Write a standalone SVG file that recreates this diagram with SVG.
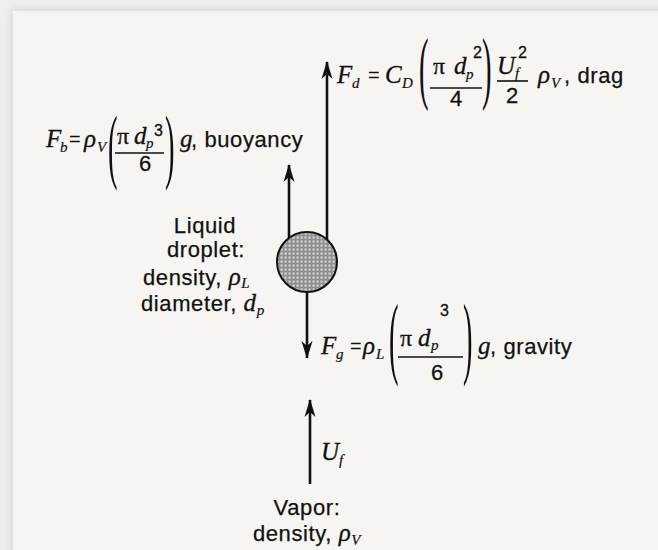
<svg xmlns="http://www.w3.org/2000/svg" width="658" height="550" viewBox="0 0 658 550">
  <defs>
    <style>
      .sans { font-family: "Liberation Sans", Arial, sans-serif; font-size: 22px; fill: #111; stroke: #111; stroke-width: 0.25; letter-spacing: 0.6px; }
      .m { font-family: "Liberation Serif", "Times New Roman", serif; font-style: italic; font-size: 25px; fill: #111; stroke: #111; stroke-width: 0.3; }
      .ms { font-family: "Liberation Serif", "Times New Roman", serif; font-style: italic; font-size: 15px; fill: #111; stroke: #111; stroke-width: 0.2; }
      .up { font-family: "Liberation Serif", "Times New Roman", serif; font-size: 24px; fill: #111; stroke: #111; stroke-width: 0.3; }
      .eq { font-family: "Liberation Sans", Arial, sans-serif; font-size: 20px; fill: #111; }
      .sup { font-family: "Liberation Sans", Arial, sans-serif; font-size: 16px; fill: #111; stroke: #111; stroke-width: 0.3; }
      .den { font-family: "Liberation Sans", Arial, sans-serif; font-size: 22px; fill: #111; stroke: #111; stroke-width: 0.3; }
      .par { font-family: "Liberation Serif", "Times New Roman", serif; font-size: 52px; fill: #111; }
      .bar { stroke: #111; stroke-width: 1.6; }
      .arrow { stroke: #111; stroke-width: 2.6; fill: none; marker-end: url(#head); }
    </style>
    <marker id="head" markerUnits="userSpaceOnUse" markerWidth="20" markerHeight="14" viewBox="-18 -7 20 14" refX="0" refY="0" orient="auto">
      <path d="M1,0 L-17,-5.5 L-12,0 L-17,5.5 Z" fill="#111"/>
    </marker>
    <pattern id="dots" patternUnits="userSpaceOnUse" width="4" height="4">
      <rect width="4" height="4" fill="#8e8e8e"/>
      <rect x="0.5" y="0.5" width="2.2" height="2.2" fill="#d4d4d4"/>
    </pattern>
    <filter id="shadow" x="-5%" y="-5%" width="110%" height="110%">
      <feGaussianBlur stdDeviation="5"/>
    </filter>
  </defs>

  <rect width="658" height="550" fill="#efefef"/>
  <rect x="12" y="10" width="680" height="580" fill="#cfcfcf" filter="url(#shadow)"/>
  <rect x="13" y="11" width="660" height="560" fill="#f6f5f1"/>

  <g id="connectors">
    <line class="arrow" x1="327" y1="241" x2="327" y2="62"/>
    <line class="arrow" x1="289" y1="239" x2="289" y2="165"/>
    <line class="arrow" x1="307" y1="291" x2="307" y2="358"/>
    <line class="arrow" x1="310" y1="484" x2="310" y2="400"/>
  </g>

  <g id="droplet">
    <circle cx="307" cy="262" r="30" fill="url(#dots)" stroke="#111" stroke-width="2"/>
  </g>

  <g id="droplet-label">
    <text class="sans" x="205" y="233" text-anchor="middle">Liquid</text>
    <text class="sans" x="206" y="257" text-anchor="middle">droplet:</text>
    <text class="sans" x="143" y="285">density, <tspan class="m">ρ</tspan><tspan class="ms" dy="3">L</tspan></text>
    <text class="sans" x="141" y="311">diameter, <tspan class="m">d</tspan><tspan class="ms" dy="4">p</tspan></text>
  </g>

  <g id="drag">
    <text class="m" x="337" y="83">F</text>
    <text class="ms" x="352" y="88">d</text>
    <text class="eq" x="368" y="82">=</text>
    <text class="m" x="385" y="83">C</text>
    <text class="ms" x="402" y="88">D</text>
    <text class="par" transform="translate(419,93.5) scale(0.55,1.55)">(</text>
    <text class="up" x="433" y="74">π</text>
    <text class="m" x="454" y="74">d</text>
    <text class="ms" x="466" y="79">p</text>
    <text class="sup" x="473" y="58">2</text>
    <line class="bar" x1="430" y1="88" x2="482" y2="88"/>
    <text class="den" x="456" y="106" text-anchor="middle">4</text>
    <text class="par" transform="translate(482,93.5) scale(0.55,1.55)">)</text>
    <text class="m" x="497" y="74">U</text>
    <text class="ms" x="515" y="78">f</text>
    <text class="sup" x="518" y="58">2</text>
    <line class="bar" x1="497" y1="81" x2="528" y2="81"/>
    <text class="den" x="512" y="103" text-anchor="middle">2</text>
    <text class="m" x="538" y="83">ρ</text>
    <text class="ms" x="551" y="88">V</text>
    <text class="sans" x="564" y="83">, drag</text>
  </g>

  <g id="buoyancy">
    <text class="m" x="46" y="147">F</text>
    <text class="ms" x="60" y="152">b</text>
    <text class="eq" x="69" y="146">=</text>
    <text class="m" x="84" y="147">ρ</text>
    <text class="ms" x="97" y="152">V</text>
    <text class="par" transform="translate(108,173.2) scale(0.55,1.6)">(</text>
    <text class="up" x="117" y="144">π</text>
    <text class="m" x="134" y="144">d</text>
    <text class="ms" x="146" y="148">p</text>
    <text class="sup" x="154" y="136">3</text>
    <line class="bar" x1="115" y1="153" x2="164" y2="153"/>
    <text class="den" x="145" y="171" text-anchor="middle">6</text>
    <text class="par" transform="translate(165,173.2) scale(0.55,1.6)">)</text>
    <text class="m" x="180" y="147">g</text>
    <text class="sans" x="191" y="147">, buoyancy</text>
  </g>

  <g id="gravity">
    <text class="m" x="321" y="354">F</text>
    <text class="ms" x="336" y="359">g</text>
    <text class="eq" x="350" y="353">=</text>
    <text class="m" x="363" y="354">ρ</text>
    <text class="ms" x="376" y="359">L</text>
    <text class="par" transform="translate(389,367) scale(0.55,1.75)">(</text>
    <text class="up" x="400" y="346">π</text>
    <text class="m" x="418" y="346">d</text>
    <text class="ms" x="431" y="350">p</text>
    <text class="sup" x="440" y="316">3</text>
    <line class="bar" x1="398" y1="357" x2="463" y2="357"/>
    <text class="den" x="437" y="380" text-anchor="middle">6</text>
    <text class="par" transform="translate(463,367) scale(0.55,1.75)">)</text>
    <text class="m" x="478" y="354">g</text>
    <text class="sans" x="490" y="354">, gravity</text>
  </g>

  <g id="vapor">
    <text class="m" x="321" y="460">U</text>
    <text class="ms" x="339" y="465">f</text>
    <text class="sans" x="307" y="515" text-anchor="middle">Vapor:</text>
    <text class="sans" x="307" y="541" text-anchor="middle">density, <tspan class="m">ρ</tspan><tspan class="ms" dy="4">V</tspan></text>
  </g>
</svg>
